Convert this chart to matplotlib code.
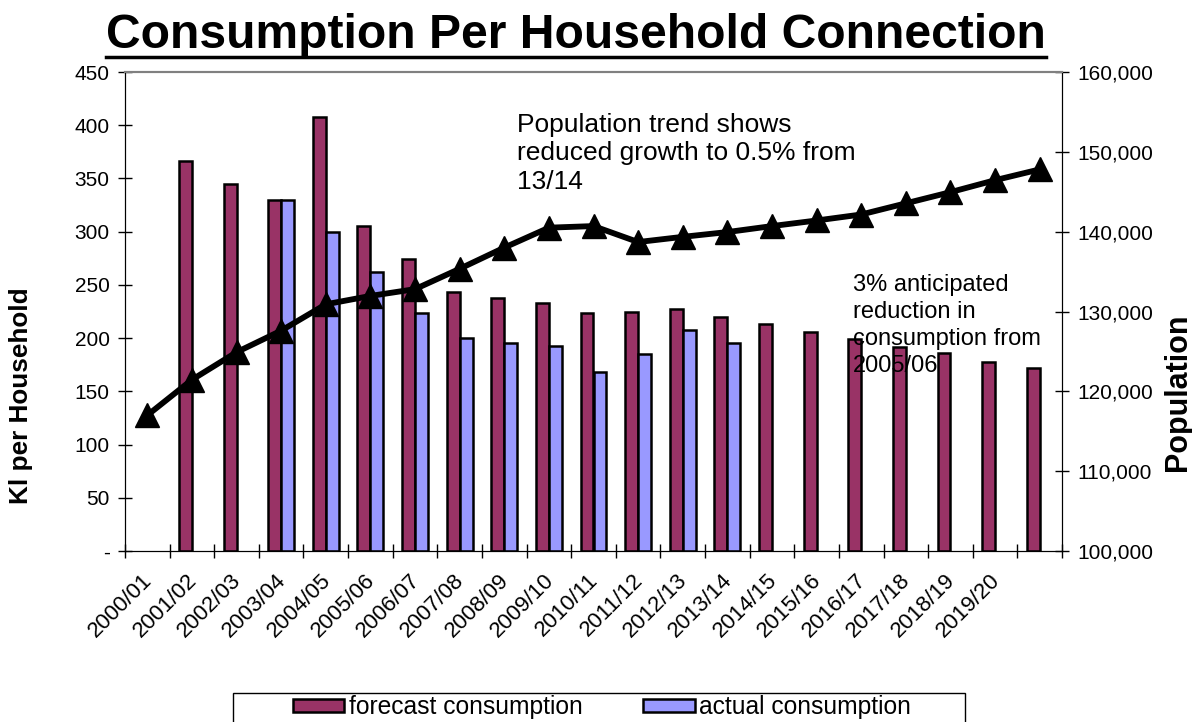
import numpy as np
import matplotlib
matplotlib.use('Agg')
import matplotlib.pyplot as plt
from matplotlib.lines import Line2D
from matplotlib.patches import Rectangle
from matplotlib.ticker import FuncFormatter

plt.rcParams['font.family'] = ['Liberation Sans', 'DejaVu Sans']

# tick labels (the last category has no label in the original)
year_labels = ['2000/01', '2001/02', '2002/03', '2003/04', '2004/05', '2005/06',
               '2006/07', '2007/08', '2008/09', '2009/10', '2010/11', '2011/12',
               '2012/13', '2013/14', '2014/15', '2015/16', '2016/17', '2017/18',
               '2018/19', '2019/20', '']

# Kl per household, None = no bar
forecast = [None, 366, 345, 330, 408, 305, 274, 243, 238, 233, 224, 225,
            227, 220, 213, 206, 199, 192, 186, 178, 172]
actual = [None, None, None, 330, 300, 262, 224, 200, 195, 193, 168, 185,
          208, 195, None, None, None, None, None, None, None]

population = [117000, 121450, 124900, 127600, 130900, 131950, 132800, 135350,
              138000, 140500, 140700, 138700, 139350, 139950, 140700, 141400,
              142150, 143550, 144950, 146450, 147800]

FORECAST_COLOR = '#993366'
ACTUAL_COLOR = '#9999FF'

W, H = 1192, 722
fig = plt.figure(figsize=(W / 100, H / 100), dpi=100)
ax = fig.add_axes([125 / W, 1 - 551 / H, (1062 - 125) / W, (551 - 72) / H])
ax2 = ax.twinx()

x = np.arange(len(population))
bw = 0.29

fx = [i for i, v in enumerate(forecast) if v is not None]
fv = [v for v in forecast if v is not None]
axx = [i for i, v in enumerate(actual) if v is not None]
av = [v for v in actual if v is not None]

ax.bar(np.array(fx) - bw / 2, fv, width=bw, color=FORECAST_COLOR,
       edgecolor='black', linewidth=1.8, label='forecast consumption')
ax.bar(np.array(axx) + bw / 2, av, width=bw, color=ACTUAL_COLOR,
       edgecolor='black', linewidth=1.8, label='actual consumption')

ax2.plot(x, population, color='black', linewidth=4.2, marker='^',
         markersize=17, markerfacecolor='black', markeredgecolor='black')

ax.set_xlim(-0.5, len(population) - 0.5)
ax.set_ylim(0, 450)
ax2.set_ylim(100000, 160000)

ax.set_yticks(np.arange(0, 451, 50))
ax.yaxis.set_major_formatter(FuncFormatter(lambda v, p: '-' if v == 0 else f'{v:.0f}'))
ax2.set_yticks(np.arange(100000, 160001, 10000))
ax2.yaxis.set_major_formatter(FuncFormatter(lambda v, p: f'{v:,.0f}'))

# category boundaries carry the tick marks, labels sit just left of centre
ax.set_xticks(np.arange(-0.5, len(population), 1.0))
ax.set_xticklabels([])
ax.set_xticks(x - 0.13, minor=True)
ax.set_xticklabels(year_labels, minor=True, rotation=45, ha='right',
                   rotation_mode='anchor', fontsize=16)
ax.tick_params(axis='x', which='minor', length=0, pad=13.5)
ax.tick_params(axis='x', which='major', direction='inout', length=10, width=1)
ax.tick_params(axis='y', direction='inout', length=10, width=1, labelsize=15, pad=6)
ax2.tick_params(axis='y', direction='inout', length=10, width=1, labelsize=15, pad=6)

for a in (ax, ax2):
    a.spines['top'].set_color('#808080')
    a.spines['top'].set_linewidth(1.5)
    a.patch.set_visible(False)

ax.set_ylabel('Kl per Household', fontsize=18.8, fontweight='bold')
ax.yaxis.set_label_coords(-0.098, 0.324)
ax2.set_ylabel('Population', fontsize=22, fontweight='bold')
ax2.yaxis.set_label_coords(1.1078, 0.332)

ax2.text(0.418, 0.914, 'Population trend shows\nreduced growth to 0.5% from\n13/14',
         transform=ax2.transAxes, fontsize=19, va='top', ha='left', linespacing=1.22)
ax2.text(0.777, 0.579, '3% anticipated\nreduction in\nconsumption from\n2005/06',
         transform=ax2.transAxes, fontsize=17, va='top', ha='left', linespacing=1.3)

title = fig.text(576 / W, 1 - 35 / H, 'Consumption Per Household Connection',
                 fontsize=34.6, fontweight='bold', ha='center', va='center')
fig.canvas.draw()
bb = title.get_window_extent().transformed(fig.transFigure.inverted())
fig.add_artist(Line2D([bb.x0, bb.x1], [1 - 57 / H, 1 - 57 / H],
                      transform=fig.transFigure, color='black', linewidth=2.5))

# legend box at the bottom, runs past the edge of the picture
fig.add_artist(Rectangle((233 / W, -0.05), (965 - 233) / W, 0.05 + (722 - 693) / H,
                         transform=fig.transFigure, facecolor='white',
                         edgecolor='black', linewidth=1))
fig.legend(loc='upper center', bbox_to_anchor=(602 / W, 1 - 695 / H), ncol=2,
           frameon=False, fontsize=17.7, handlelength=2.1, handleheight=0.45,
           handletextpad=0.2, columnspacing=2.44, borderpad=0, borderaxespad=0)

fig.savefig('out.png', dpi=100)
